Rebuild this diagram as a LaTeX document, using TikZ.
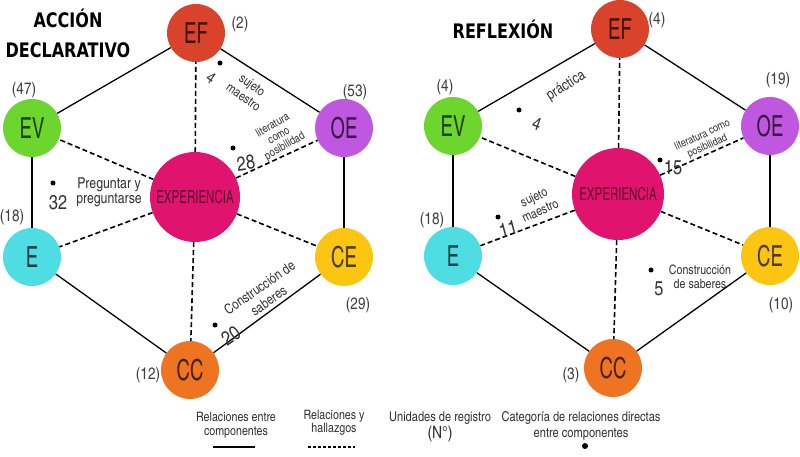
\documentclass[tikz,border=0pt]{standalone}
\usepackage{fontspec}
\setmainfont{texgyreheroscn}[Extension=.otf,UprightFont=*-regular,BoldFont=*-bold]
\newfontfamily\titlefont{DejaVu Sans}[FakeStretch=0.8]
\newfontfamily\compfont{texgyreheroscn}[Extension=.otf,UprightFont=*-regular,FakeStretch=0.78]
\definecolor{cEF}{HTML}{D9432B}
\definecolor{cEV}{HTML}{6CD62E}
\definecolor{cOE}{HTML}{C057E0}
\definecolor{cEX}{HTML}{E0146E}
\definecolor{cE}{HTML}{4DDDE2}
\definecolor{cCE}{HTML}{FCC512}
\definecolor{cCC}{HTML}{EE7421}
\tikzset{
    comp/.style = {circle, fill=#1, text=#1!30!black, inner sep=0pt, minimum size=58pt,
        font=\compfont\fontsize{29}{29}\selectfont},
    hub/.style = {circle, fill=cEX, inner sep=0pt, minimum size=90pt,
        font=\compfont\fontsize{18}{18}\selectfont, text=cEX!45!black},
    rel/.style = {draw, line width=1.3pt},
    hall/.style = {draw, line width=1.6pt, dash pattern=on 5pt off 3pt},
    count/.style = {inner sep=0pt, font=\fontsize{16.5}{16.5}\selectfont, text=black!75},
    note/.style = {inner sep=0pt, align=center, text=black!80},
    num/.style = {inner sep=0pt, font=\fontsize{20}{20}\selectfont, text=black!80},
    punto/.style = {circle, fill=black, inner sep=0pt, minimum size=5pt},
    titulo/.style = {inner sep=0pt, align=center, font=\titlefont\bfseries\fontsize{20}{30}\selectfont}
}
\begin{document}
\begin{tikzpicture}[x=1pt, y=-1pt]
    \useasboundingbox (0,0) rectangle (800,457);
    % accion declarativo
    \node [comp=cEF] (lEF) at (196,33) {EF};
    \node [comp=cEV] (lEV) at (32,128) {EV};
    \node [comp=cOE] (lOE) at (344,128) {OE};
    \node [comp=cE] (lE) at (32,257) {E};
    \node [comp=cCE] (lCE) at (344,257) {CE};
    \node [comp=cCC] (lCC) at (190,370) {CC};
    \node [hub] (lX) at (195,197) {EXPERIENCIA};
    % reflexion
    \node [comp=cEF] (rEF) at (620,29) {EF};
    \node [comp=cEV] (rEV) at (453,126) {EV};
    \node [comp=cOE] (rOE) at (770,126) {OE};
    \node [comp=cE] (rE) at (453,256) {E};
    \node [comp=cCE] (rCE) at (770,256) {CE};
    \node [comp=cCC] (rCC) at (613,368) {CC};
    \node [hub, minimum size=92pt] (rX) at (618,194) {EXPERIENCIA};
    \foreach \p in {l,r}{
        \foreach \a/\b in {EF/EV,EF/OE,EV/E,OE/CE,E/CC,CE/CC}
            \draw [rel] (\p\a) -- (\p\b);
        \foreach \a in {EF,EV,OE,E,CE,CC}
            \draw [hall] (\p X) -- (\p\a);
    }
    \node [titulo] (tit1) at (68,33) {ACCIÓN\\DECLARATIVO};
    \node [titulo] (tit2) at (503,29) {REFLEXIÓN};
    % unidades de registro
    \node [count] (nlEF) at (240,24) {(2)};
    \node [count] (nlEV) at (24,90) {(47)};
    \node [count] (nlOE) at (355,92) {(53)};
    \node [count] (nlE) at (12,217) {(18)};
    \node [count] (nlCE) at (358,305) {(29)};
    \node [count] (nlCC) at (148,375) {(12)};
    \node [count] (nrEF) at (657,20) {(4)};
    \node [count] (nrEV) at (445,87) {(4)};
    \node [count] (nrOE) at (778,80) {(19)};
    \node [count] (nrE) at (432,220) {(18)};
    \node [count] (nrCE) at (781,305) {(10)};
    \node [count] (nrCC) at (571,375) {(3)};
    % categorias
    \node [punto] (p1) at (220,63) {};
    \node [num, rotate=-35, font=\fontsize{16}{16}\selectfont] (u1) at (211,78) {4};
    \node [note, rotate=-35, font=\fontsize{13}{15}\selectfont] (c1) at (248,91) {sujeto\\maestro};
    \node [punto] (p2) at (233,148) {};
    \node [num, rotate=8] (u2) at (246,163) {28};
    \node [note, rotate=30, font=\fontsize{11.5}{12}\selectfont] (c2) at (279,136) {literatura\\como\\posibilidad};
    \node [punto] (p3) at (53,183) {};
    \node [num] (u3) at (58,203) {32};
    \node [note, font=\fontsize{15}{15}\selectfont] (c3) at (109,192) {Preguntar y\\preguntarse};
    \node [punto] (p4) at (215,325) {};
    \node [num, rotate=35] (u4) at (231,336) {20};
    \node [note, rotate=35, font=\fontsize{14}{16}\selectfont] (c4) at (264,294) {Construcción de\\saberes};
    \node [punto] (p5) at (519,110) {};
    \node [num, rotate=-20, font=\fontsize{18}{18}\selectfont] (u5) at (537,124) {4};
    \node [note, rotate=32, font=\fontsize{15}{15}\selectfont] (c5) at (566,86) {práctica};
    \node [punto] (p6) at (660,160) {};
    \node [num] (u6) at (673,168) {15};
    \node [note, rotate=25, font=\fontsize{11}{12}\selectfont] (c6) at (705,141) {literatura como\\posibilidad};
    \node [punto] (p7) at (498,217) {};
    \node [num, rotate=15] (u7) at (508,229) {11};
    \node [note, rotate=25, font=\fontsize{13}{15}\selectfont] (c7) at (537,204) {sujeto\\maestro};
    \node [punto] (p8) at (651,270) {};
    \node [num] (u8) at (659,289) {5};
    \node [note, font=\fontsize{13}{14}\selectfont] (c8) at (700,277) {Construcción\\de saberes};
    % leyenda
    \node [note, font=\fontsize{13}{14.5}\selectfont] (ley1) at (236,425) {Relaciones entre\\componentes};
    \coordinate (ley1a) at (213,447);
    \coordinate (ley1b) at (255,447);
    \draw [rel, line width=1.1pt] (ley1a) -- (ley1b);
    \node [note, font=\fontsize{13}{13.5}\selectfont] (ley2) at (334,423) {Relaciones y\\hallazgos};
    \coordinate (ley2a) at (308,447);
    \coordinate (ley2b) at (355,447);
    \draw [hall, line width=1.1pt, dash pattern=on 3pt off 2pt] (ley2a) -- (ley2b);
    \node [note, font=\fontsize{13.5}{17}\selectfont] (ley3) at (440,427) {Unidades de registro\\{\fontsize{17}{17}\selectfont (N°)}};
    \node [note, font=\fontsize{13.5}{16}\selectfont] (ley4) at (581,426) {Categoría de relaciones directas\\entre componentes};
    \node [punto, minimum size=6pt] (ley4p) at (585,446) {};
\end{tikzpicture}
\end{document}
